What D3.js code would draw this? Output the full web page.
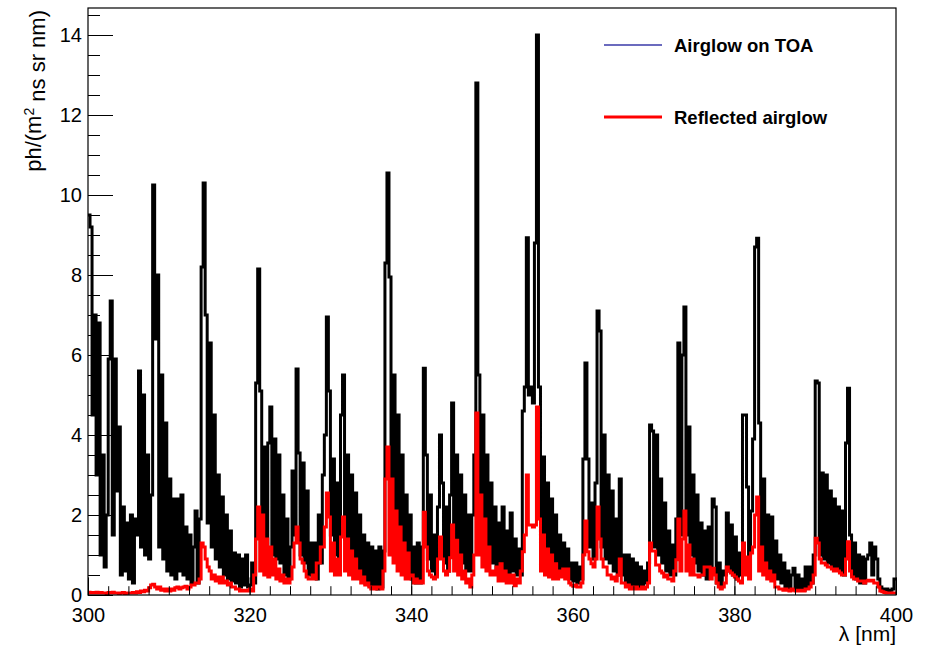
<!DOCTYPE html>
<html>
<head>
<meta charset="utf-8">
<title>Airglow</title>
<script src="https://cdn.jsdelivr.net/npm/d3@7"></script>
<style>
  body { margin: 0; background: #fff; }
  text { font-family: "Liberation Sans", Arial, Helvetica, sans-serif; fill: #000; }
</style>
</head>
<body>
<script>
// DATA : 0.25 nm bins from 300 to 400 nm, one row = 5 nm
var lambdaStart = 300;
var binWidth = 0.25;

// Airglow on TOA (black histogram)
var toaValues = [
  9.5, 9.2, 4.5, 7.0, 3.0, 6.8, 1.0, 3.5, 0.7, 2.0, 5.9, 7.35, 1.5, 5.9, 2.6, 4.2, 0.5, 2.2, 0.6, 1.8,
  0.4, 2.0, 0.3, 1.9, 1.5, 5.6, 1.2, 5.0, 1.0, 3.5, 0.9, 2.5, 10.25, 6.4, 8.0, 1.2, 5.5, 0.9, 4.3, 0.6,
  2.9, 0.5, 2.4, 0.4, 2.4, 0.6, 2.5, 0.5, 1.7, 0.4, 1.5, 0.3, 1.2, 2.1, 0.3, 1.9, 8.2, 10.3, 7.0, 1.8,
  6.3, 1.2, 4.5, 0.9, 3.0, 0.7, 2.45, 0.5, 2.0, 0.4, 1.6, 0.35, 1.05, 0.3, 1.0, 0.2, 0.9, 0.25, 1.0, 0.2,
  0.25, 0.8, 0.3, 5.3, 8.15, 5.1, 1.5, 3.7, 1.2, 3.8, 4.7, 1.0, 3.9, 0.9, 3.5, 0.8, 2.5, 0.5, 1.9, 0.4,
  1.2, 3.1, 1.5, 5.65, 3.55, 1.0, 3.3, 0.8, 2.6, 0.5, 1.3, 0.45, 1.3, 0.4, 2.0, 0.8, 3.0, 4.0, 6.95, 5.1,
  1.5, 3.4, 1.0, 2.8, 0.9, 4.5, 5.5, 1.4, 3.5, 1.0, 3.0, 0.8, 2.55, 0.6, 2.0, 0.5, 1.5, 0.3, 1.3, 0.25,
  1.2, 0.2, 1.1, 0.15, 1.2, 0.2, 1.1, 8.3, 10.55, 7.95, 1.5, 5.5, 1.2, 4.5, 1.0, 3.5, 0.8, 2.5, 0.5, 2.0,
  0.4, 1.2, 0.3, 1.3, 0.3, 1.2, 5.67, 3.5, 0.9, 2.5, 0.6, 1.5, 0.5, 2.2, 4.0, 2.8, 0.8, 2.2, 0.6, 2.5,
  4.8, 1.2, 3.5, 1.0, 3.0, 0.8, 2.5, 0.6, 2.0, 0.6, 2.0, 3.5, 12.8, 5.5, 1.5, 4.5, 1.2, 3.5, 1.0, 2.8,
  0.8, 2.2, 0.6, 1.8, 0.5, 2.2, 0.5, 1.6, 0.5, 2.05, 0.6, 1.4, 0.5, 1.15, 0.5, 4.6, 5.2, 8.93, 5.0, 5.2,
  4.8, 8.8, 14.0, 5.2, 1.5, 3.45, 1.0, 2.8, 0.8, 2.4, 0.6, 2.0, 0.5, 1.5, 0.5, 1.3, 0.5, 1.15, 0.4, 0.8,
  0.35, 0.8, 0.3, 0.7, 0.4, 3.4, 5.8, 3.4, 1.2, 2.3, 0.9, 2.8, 7.1, 6.6, 1.2, 4.0, 0.9, 3.0, 0.8, 2.6,
  0.6, 1.9, 0.5, 2.9, 0.5, 1.0, 0.3, 1.0, 0.25, 0.9, 0.2, 0.8, 0.2, 0.7, 0.2, 0.6, 0.3, 0.8, 4.25, 4.1,
  1.2, 4.0, 1.0, 2.9, 0.8, 2.3, 0.6, 1.6, 0.5, 1.25, 0.5, 1.9, 6.3, 1.5, 6.0, 7.2, 1.5, 4.2, 1.0, 3.0,
  0.8, 2.5, 0.6, 1.8, 0.5, 1.6, 0.4, 1.7, 0.6, 2.4, 2.2, 0.3, 0.8, 0.2, 0.6, 0.5, 2.05, 0.6, 1.75, 0.5,
  1.45, 0.4, 1.05, 0.5, 4.5, 4.5, 2.7, 1.0, 2.1, 3.9, 8.7, 8.92, 4.3, 1.0, 2.9, 0.8, 2.0, 0.6, 1.95, 0.5,
  1.35, 0.4, 1.0, 0.3, 0.8, 0.2, 0.6, 0.15, 0.5, 0.67, 0.15, 0.5, 0.12, 0.4, 0.12, 0.7, 0.2, 0.7, 0.3, 1.0,
  5.35, 5.3, 1.0, 3.05, 0.9, 3.0, 0.8, 2.6, 0.7, 2.4, 0.7, 2.2, 0.6, 2.1, 0.5, 3.8, 5.17, 1.5, 0.5, 1.3,
  0.4, 1.0, 0.3, 0.95, 0.3, 0.9, 1.0, 1.3, 0.5, 1.2, 0.9, 0.4, 0.2, 0.15, 0.12, 0.15, 0.1, 0.12, 0.15, 0.4
];

// Reflected airglow (red histogram)
var reflValues = [
  0.07, 0.05, 0.06, 0.05, 0.07, 0.05, 0.06, 0.05, 0.05, 0.04, 0.06, 0.05, 0.07, 0.05, 0.05, 0.04, 0.05, 0.06, 0.04, 0.05,
  0.05, 0.05, 0.06, 0.05, 0.08, 0.06, 0.1, 0.08, 0.12, 0.1, 0.18, 0.25, 0.27, 0.2, 0.15, 0.2, 0.12, 0.15, 0.1, 0.15,
  0.1, 0.15, 0.12, 0.18, 0.2, 0.15, 0.18, 0.2, 0.22, 0.15, 0.2, 0.25, 0.25, 0.3, 0.3, 0.4, 1.3, 1.2, 0.9, 0.7,
  0.6, 0.4, 0.5, 0.35, 0.45, 0.3, 0.45, 0.3, 0.35, 0.25, 0.3, 0.2, 0.2, 0.15, 0.15, 0.1, 0.12, 0.1, 0.12, 0.1,
  0.15, 0.1, 0.5, 1.4, 2.2, 0.6, 2.0, 0.5, 1.4, 0.45, 1.2, 0.5, 0.9, 0.4, 0.65, 0.35, 0.5, 0.3, 0.4, 0.3,
  0.4, 0.7, 1.3, 1.7, 1.3, 0.9, 0.8, 0.6, 0.45, 0.4, 0.4, 0.5, 0.4, 0.8, 0.8, 1.2, 1.2, 1.7, 2.55, 1.95,
  0.6, 1.3, 0.5, 0.9, 0.5, 1.45, 1.95, 0.6, 1.4, 0.5, 1.1, 0.4, 0.9, 0.4, 0.6, 0.3, 0.45, 0.25, 0.3, 0.2,
  0.15, 0.2, 0.15, 0.2, 0.2, 0.15, 0.6, 2.9, 3.7, 1.0, 2.9, 0.8, 2.1, 0.6, 1.7, 0.5, 1.3, 0.4, 1.05, 0.4,
  0.5, 0.3, 0.4, 0.3, 0.35, 0.3, 2.07, 1.2, 0.6, 0.5, 0.45, 0.4, 0.45, 0.9, 1.45, 0.9, 0.6, 0.5, 0.6, 0.93,
  1.75, 0.6, 1.37, 0.5, 1.0, 0.4, 0.6, 0.3, 0.4, 0.2, 0.5, 1.0, 4.55, 1.0, 2.5, 0.7, 1.9, 0.6, 1.2, 0.5,
  0.6, 0.5, 0.7, 0.35, 0.78, 0.35, 0.6, 0.3, 0.5, 0.3, 0.5, 0.23, 0.4, 0.3, 0.6, 1.08, 1.5, 3.0, 1.75, 1.75,
  1.7, 1.75, 4.7, 1.9, 0.6, 1.5, 0.5, 1.15, 0.45, 1.0, 0.4, 0.78, 0.4, 0.6, 0.45, 0.65, 0.4, 0.65, 0.3, 0.25,
  0.22, 0.25, 0.2, 0.2, 0.3, 1.0, 1.85, 1.08, 0.9, 0.78, 0.7, 0.9, 2.2, 1.4, 0.9, 0.7, 0.7, 0.5, 0.5, 0.4,
  0.45, 0.35, 0.5, 0.9, 0.3, 0.3, 0.2, 0.25, 0.15, 0.2, 0.15, 0.2, 0.15, 0.15, 0.2, 0.15, 0.2, 0.3, 1.3, 1.1,
  1.1, 0.75, 0.75, 0.6, 0.55, 0.45, 0.5, 0.4, 0.4, 0.35, 0.6, 0.88, 1.9, 0.6, 1.4, 2.1, 0.6, 1.25, 0.5, 0.9,
  0.5, 0.5, 0.45, 0.5, 0.5, 0.7, 0.7, 0.7, 0.4, 0.67, 0.5, 0.3, 0.2, 0.15, 0.2, 0.3, 0.7, 0.6, 0.55, 0.5,
  0.45, 0.4, 0.35, 0.3, 1.3, 0.5, 0.95, 0.4, 1.05, 1.2, 2.0, 2.45, 0.6, 1.2, 0.5, 0.8, 0.4, 0.6, 0.35, 0.5,
  0.2, 0.2, 0.15, 0.15, 0.12, 0.15, 0.12, 0.1, 0.15, 0.12, 0.1, 0.12, 0.1, 0.12, 0.1, 0.15, 0.15, 0.2, 0.3, 0.5,
  1.42, 1.3, 0.9, 0.8, 0.8, 0.75, 0.7, 0.7, 0.65, 0.6, 0.65, 0.6, 0.55, 0.5, 0.5, 0.9, 1.33, 0.6, 0.45, 0.4,
  0.4, 0.35, 0.35, 0.35, 0.3, 0.35, 0.37, 0.35, 0.37, 0.3, 0.3, 0.2, 0.1, 0.08, 0.06, 0.05, 0.05, 0.05, 0.05, 0.05
];

var xTickLabels = [300, 320, 340, 360, 380, 400];
var yTickLabels = [0, 2, 4, 6, 8, 10, 12, 14];
var seriesNames = ["Airglow on TOA", "Reflected airglow"];

// LAYOUT
var margin = {top: 8, right: 31, bottom: 55, left: 88};
var width = 927 - margin.left - margin.right;
var height = 650 - margin.top - margin.bottom;

var x = d3.scaleLinear().domain([300, 400]).range([0, width]);
var y = d3.scaleLinear().domain([0, 14.675]).range([height, 0]);

var svg = d3.select('body').append('svg')
  .attr('width', 927)
  .attr('height', 650);

var g = svg.append('g')
  .attr('transform', 'translate(' + margin.left + ',' + margin.top + ')');

g.append('clipPath').attr('id', 'frameclip')
  .append('rect').attr('width', width).attr('height', height);

var binLow = toaValues.map(function(d, i) { return lambdaStart + i * binWidth; });

// step line like a ROOT histogram
function stepPath(vals) {
  var p = d3.path();
  vals.forEach(function(v, i) {
    var x0 = x(binLow[i]), x1 = x(binLow[i] + binWidth);
    if (i == 0) p.moveTo(x0, y(v)); else p.lineTo(x0, y(v));
    p.lineTo(x1, y(v));
  });
  return p.toString();
}

var plot = g.append('g').attr('clip-path', 'url(#frameclip)');

plot.append('path')
  .attr('d', stepPath(toaValues))
  .attr('fill', 'none')
  .attr('stroke', '#000')
  .attr('stroke-width', 3);

plot.append('path')
  .attr('d', stepPath(reflValues))
  .attr('fill', 'none')
  .attr('stroke', '#ff0000')
  .attr('stroke-width', 3);

// axes, ticks inside the frame
var yMinor = d3.range(0, 14.6, 0.5);
var xMinor = d3.range(300, 400.1, 2.5);

g.append('g')
  .call(d3.axisLeft(y).tickValues(yMinor).tickSize(-12).tickFormat(''));
g.append('g')
  .attr('class', 'y axis')
  .call(d3.axisLeft(y).tickValues(yTickLabels).tickSizeInner(-25).tickSizeOuter(0).tickPadding(6));

g.append('g')
  .attr('transform', 'translate(0,' + height + ')')
  .call(d3.axisBottom(x).tickValues(xMinor).tickSize(-8.8).tickFormat(''));
g.append('g')
  .attr('class', 'x axis')
  .attr('transform', 'translate(0,' + height + ')')
  .call(d3.axisBottom(x).tickValues(xTickLabels).tickSizeInner(-17.6).tickSizeOuter(0).tickPadding(13));

g.selectAll('.domain').remove();
g.selectAll('.tick line').attr('stroke', '#000').attr('stroke-width', 1);
g.selectAll('.tick text').style('font-size', '20px').style('fill', '#000')
  .style('font-family', '"Liberation Sans", Arial, sans-serif');

// frame
g.append('rect')
  .attr('width', width).attr('height', height)
  .attr('fill', 'none').attr('stroke', '#000').attr('stroke-width', 1.2);

// axis titles
svg.append('text')
  .attr('x', 896).attr('y', 641)
  .attr('text-anchor', 'end')
  .style('font-size', '21px')
  .text('\u03bb [nm]');

var ylab = svg.append('text')
  .attr('transform', 'translate(41,10) rotate(-90)')
  .attr('text-anchor', 'end')
  .style('font-size', '22px');
ylab.append('tspan').text('ph/(m');
ylab.append('tspan').attr('dy', '-0.5em').style('font-size', '14px').text('2');
ylab.append('tspan').attr('dy', '0.5em').text(' ns sr nm)');

// legend
var legend = svg.append('g');
var legColors = ['#3a3aa8', '#ff0000'];
var legWidths = [1.5, 3];
var legY = [45, 117];
seriesNames.forEach(function(name, i) {
  legend.append('line')
    .attr('x1', 604).attr('x2', 662)
    .attr('y1', legY[i]).attr('y2', legY[i])
    .attr('stroke', legColors[i]).attr('stroke-width', legWidths[i]);
  legend.append('text')
    .attr('x', 674).attr('y', legY[i] + 7)
    .style('font-size', '18.5px').style('font-weight', 'bold')
    .text(name);
});
</script>
</body>
</html>
